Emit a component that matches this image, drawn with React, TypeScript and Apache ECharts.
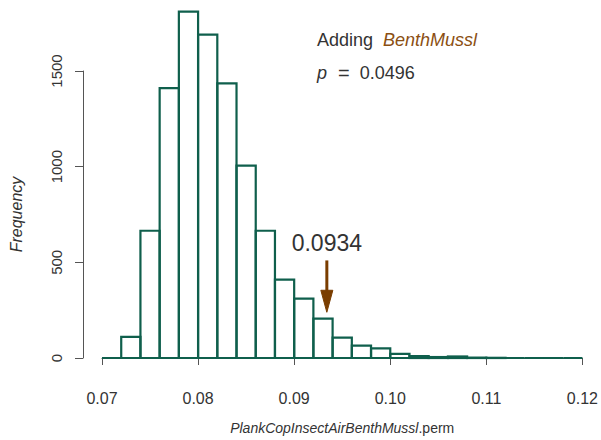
import React, { useEffect, useRef } from "react";
import * as echarts from "echarts";

// Histogram bins (lower and upper edges) and their frequencies
const binLower = [
  0.07, 0.072, 0.074, 0.076, 0.078, 0.08, 0.082, 0.084, 0.086, 0.088, 0.09, 0.092, 0.094,
  0.096, 0.098, 0.1, 0.102, 0.104, 0.106, 0.108, 0.11, 0.112, 0.114, 0.116, 0.118,
];
const binUpper = [
  0.072, 0.074, 0.076, 0.078, 0.08, 0.082, 0.084, 0.086, 0.088, 0.09, 0.092, 0.094, 0.096,
  0.098, 0.1, 0.102, 0.104, 0.106, 0.108, 0.11, 0.112, 0.114, 0.116, 0.118, 0.12,
];
const frequency = [
  0, 110, 665, 1410, 1810, 1690, 1435, 1005, 665, 410, 310, 206, 107, 65, 50, 22, 10, 5, 8, 2,
  1, 0, 0, 0, 0,
];

// Observed statistic, marked with an arrow: [x, arrow start, arrow tip, label height]
const observed = [0.0934, 510, 239, 600];
const observedLabel = "0.0934";
const pValue = "0.0496";
const addedTerm = "BenthMussl";

const yTicks = [0, 500, 1000, 1500];
const xTicks = [0.07, 0.08, 0.09, 0.1, 0.11, 0.12];

const GREEN = "#0f5f4c";
const BROWN = "#7a3d00";
const FONT = "Liberation Sans";

export default function App() {
  const ref = useRef<HTMLDivElement>(null);

  useEffect(() => {
    if (!ref.current) return;
    const chart = echarts.init(ref.current, undefined, { renderer: "svg" });
    const bins = binLower.map((lo, i) => [lo, binUpper[i], frequency[i]]);

    chart.setOption({
      animation: false,
      backgroundColor: "#ffffff",
      textStyle: { fontFamily: FONT },
      grid: { left: 101, right: 15, top: 71, bottom: 78 },
      xAxis: {
        type: "value",
        min: xTicks[0],
        max: xTicks[xTicks.length - 1],
        interval: 0.01,
        offset: 16,
        splitLine: { show: false },
        axisLine: { show: true, lineStyle: { color: "#555", width: 1 } },
        axisTick: { show: true, length: 7, lineStyle: { color: "#555" } },
        axisLabel: {
          color: "#333",
          fontSize: 16,
          margin: 16,
          fontFamily: FONT,
          formatter: (v: number) => v.toFixed(2),
        },
        name: "{i|PlankCopInsectAirBenthMussl}{n|.perm}",
        nameLocation: "middle",
        nameGap: 47,
        nameTextStyle: {
          rich: {
            i: { fontStyle: "italic", fontSize: 14, color: "#333", fontFamily: FONT },
            n: { fontSize: 14, color: "#333", fontFamily: FONT },
          },
        },
      },
      yAxis: {
        type: "value",
        min: yTicks[0],
        max: yTicks[yTicks.length - 1],
        interval: 500,
        offset: 19,
        splitLine: { show: false },
        axisLine: { show: true, lineStyle: { color: "#555", width: 1 } },
        axisTick: { show: true, length: 8, lineStyle: { color: "#555" } },
        axisLabel: {
          color: "#333",
          fontSize: 15,
          rotate: 90,
          margin: 19,
          fontFamily: FONT,
          formatter: (v: number) => String(v),
        },
        name: "Frequency",
        nameLocation: "middle",
        nameGap: 59,
        nameTextStyle: { fontStyle: "italic", fontSize: 16, color: "#333", fontFamily: FONT },
      },
      graphic: [
        {
          type: "text",
          left: 317,
          top: 31,
          style: {
            text: "{a|Adding  }{b|" + addedTerm + "}",
            rich: {
              a: { fontSize: 18, fill: "#333", fontFamily: FONT },
              b: { fontSize: 18, fill: "#8b4f12", fontStyle: "italic", fontFamily: FONT },
            },
          },
        },
        {
          type: "text",
          left: 317,
          top: 63,
          style: {
            text: "{p|p}{e|=}{r|" + pValue + "}",
            rich: {
              p: { fontSize: 18, fill: "#333", fontStyle: "italic", fontFamily: FONT },
              e: { fontSize: 20, fill: "#333", fontFamily: FONT, padding: [0, 10, 0, 11] },
              r: { fontSize: 18, fill: "#333", fontFamily: FONT },
            },
          },
        },
      ],
      series: [
        {
          type: "custom",
          clip: false,
          data: bins,
          encode: { x: [0, 1], y: 2 },
          renderItem: (_params: any, api: any) => {
            const p0 = api.coord([api.value(0), 0]);
            const p1 = api.coord([api.value(1), api.value(2)]);
            return {
              type: "polygon",
              shape: {
                points: [
                  [p0[0], p0[1]],
                  [p0[0], p1[1]],
                  [p1[0], p1[1]],
                  [p1[0], p0[1]],
                ],
              },
              style: { fill: "none", stroke: GREEN, lineWidth: 2.2 },
            };
          },
        },
        {
          type: "custom",
          clip: false,
          data: [observed],
          encode: { x: 0, y: [1, 2, 3] },
          renderItem: (_params: any, api: any) => {
            const start = api.coord([api.value(0), api.value(1)]);
            const tip = api.coord([api.value(0), api.value(2)]);
            const lab = api.coord([api.value(0), api.value(3)]);
            const headLen = 22;
            const headHalf = 6;
            return {
              type: "group",
              children: [
                {
                  type: "line",
                  shape: { x1: start[0], y1: start[1], x2: tip[0], y2: tip[1] - headLen + 2 },
                  style: { stroke: BROWN, lineWidth: 3 },
                },
                {
                  type: "polygon",
                  shape: {
                    points: [
                      [tip[0] - headHalf, tip[1] - headLen],
                      [tip[0] + headHalf, tip[1] - headLen],
                      [tip[0], tip[1]],
                    ],
                  },
                  style: { fill: BROWN, stroke: BROWN, lineWidth: 1 },
                },
                {
                  type: "text",
                  x: lab[0],
                  y: lab[1],
                  style: {
                    text: observedLabel,
                    fontSize: 23,
                    fill: "#333",
                    fontFamily: FONT,
                    align: "center",
                    verticalAlign: "middle",
                  },
                },
              ],
            };
          },
        },
      ],
    });

    return () => chart.dispose();
  }, []);

  return (
    <div
      ref={ref}
      style={{ position: "fixed", left: 0, top: 0, width: 601, height: 440 }}
    />
  );
}
